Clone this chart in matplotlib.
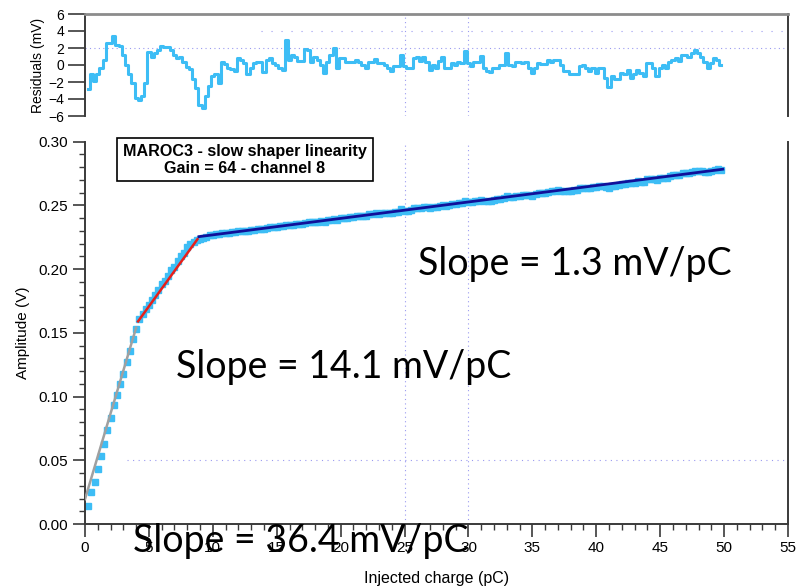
import numpy as np
import matplotlib
matplotlib.use("Agg")
import matplotlib.pyplot as plt
from matplotlib.patches import Rectangle
from matplotlib.ticker import MultipleLocator, FormatStrFormatter

# ---------------- data ----------------
step_pc = 0.25  # charge step between measurements (pC)

amplitude_V = [
    0.014, 0.025, 0.033, 0.043, 0.053, 0.063, 0.074, 0.083, 0.093, 0.101, 0.110, 0.118,
    0.127, 0.136, 0.145, 0.153,
    0.161, 0.165, 0.169, 0.172, 0.176, 0.180, 0.184, 0.188, 0.191, 0.195,
    0.199, 0.202, 0.206, 0.210, 0.213, 0.217, 0.220, 0.2215, 0.2225,
    0.2235, 0.2245, 0.2255,
    0.2264,
    0.2268, 0.2272, 0.2276, 0.2280,
    0.2283, 0.2285, 0.2288, 0.2290,
    0.2296, 0.2298, 0.2301, 0.2301,
    0.2307, 0.2311, 0.2315, 0.2318,
    0.2318, 0.2325, 0.2329, 0.2331,
    0.2334, 0.2336, 0.2338, 0.2350,
    0.2344, 0.2350, 0.2352, 0.2354,
    0.2357, 0.2364, 0.2367, 0.2366,
    0.2373, 0.2373, 0.2374, 0.2372,
    0.2382, 0.2389, 0.2394, 0.2389,
    0.2401, 0.2403, 0.2405, 0.2408,
    0.2411, 0.2417, 0.2418, 0.2418,
    0.2419, 0.2429, 0.2432, 0.2438,
    0.2436, 0.2439, 0.2441, 0.2440,
    0.2440, 0.2449, 0.2452, 0.2468,
    0.2459, 0.2460, 0.2463, 0.2477,
    0.2482, 0.2480, 0.2487, 0.2485,
    0.2479, 0.2488, 0.2488, 0.2499,
    0.2507, 0.2497, 0.2500, 0.2509,
    0.2511, 0.2518, 0.2519, 0.2537,
    0.2525, 0.2524, 0.2533, 0.2536,
    0.2546, 0.2535, 0.2534, 0.2536,
    0.2544, 0.2547, 0.2553, 0.2557,
    0.2574, 0.2563, 0.2565, 0.2574,
    0.2577, 0.2579, 0.2584, 0.2580,
    0.2577, 0.2587, 0.2595, 0.2597,
    0.2600, 0.2609, 0.2610, 0.2615,
    0.2618, 0.2615, 0.2611, 0.2614,
    0.2614, 0.2618, 0.2620, 0.2633,
    0.2638, 0.2638, 0.2637, 0.2645,
    0.2642, 0.2651, 0.2655, 0.2646,
    0.2639, 0.2655, 0.2655, 0.2658,
    0.2668, 0.2669, 0.2678, 0.2672,
    0.2679, 0.2688, 0.2687, 0.2687,
    0.2705, 0.2709, 0.2707, 0.2700,
    0.2712, 0.2719, 0.2719, 0.2729,
    0.2735, 0.2740, 0.2740, 0.2751,
    0.2754, 0.2755, 0.2763, 0.2770,
    0.2769, 0.2767, 0.2766, 0.2762,
    0.2771, 0.2780, 0.2782, 0.2779,
]

residual_mV = [
    -2.8, -1.0, -1.9, -1.1, -0.3, 0.6, 2.6, 2.6, 3.4, 2.4, 2.2, 1.2,
    0.0, -1.1, -2.1, -3.9, -4.1, -3.7, -2.1, 1.5, 1.0, 1.4, 1.8, 2.2,
    2.1, 2.1, 1.8, 1.2, 0.8, 0.9, 0.4, -0.2, -0.5, -1.7, -2.7, -4.7,
    -5.1, -3.7, -2.5, -1.3, -1.1, -2.1, 0.35, 0.1, -0.3, -0.5, -0.7, 0.8,
    0.6, 0.2, -1.1, -0.35, 0.2, 0.4, 0.4, -0.8, 0.6, 0.8, 0.2, 0.0,
    -0.35, -0.55, 2.9, 0.6, 1.2, 1.0, 0.5, 0.5, 1.9, 1.8, 0.4, 1.0,
    0.6, 0.0, -0.95, 0.4, 1.2, 2.0, -0.35, 0.8, 0.8, 0.4, 0.3, 0.3,
    0.6, 0.35, 0.0, -0.3, 0.4, 0.4, 0.75, 0.2, 0.2, 0.0, -0.4, -0.75,
    -0.15, -0.15, 1.2, -0.15, -0.3, -0.3, 0.8, 1.0, 0.5, 0.9, 0.4, -0.55,
    0.0, -0.35, 0.5, 1.0, -0.35, -0.35, 0.2, 0.0, 0.4, 0.2, 1.7, 0.2,
    -0.15, 0.4, 0.4, 1.1, -0.3, -0.7, -0.8, -0.3, -0.3, 0.0, 0.0, 1.4,
    0.0, -0.15, 0.4, 0.4, 0.2, 0.4, -0.35, -0.95, -0.3, 0.2, 0.1, 0.1,
    0.6, 0.35, 0.6, 0.6, 0.0, -0.75, -0.7, -1.05, -1.05, -1.1, -0.15, 0.0,
    -0.35, -0.75, -0.3, -0.95, -0.4, -0.3, -1.5, -2.6, -1.3, -1.6, -1.6, -0.95,
    -1.1, -0.55, -1.5, -1.1, -0.55, -0.95, -1.3, 0.2, 0.2, -0.35, -1.3, -0.35,
    0.0, -0.35, 0.35, 0.6, 0.8, 0.5, 1.2, 1.2, 1.0, 1.4, 1.8, 1.4,
    0.9, 0.4, -0.35, 0.2, 0.8, 0.6, 0.0,
]

# fitted segments: (x_start, y_start, x_end, y_end)
fit_low = (0.0, 0.0195, 4.0, 0.154)      # gray
fit_mid = (4.15, 0.159, 8.8, 0.2235)     # red
fit_high = (8.92, 0.2255, 49.9, 0.2784)  # blue

slope_labels = ["Slope = 1.3 mV/pC", "Slope = 14.1 mV/pC", "Slope = 36.4 mV/pC"]
box_text = "MAROC3 - slow shaper linearity\nGain = 64 - channel 8"

x_ticks = [0, 5, 10, 15, 20, 25, 30, 35, 40, 45, 50, 55]
amp_ticks = [0.00, 0.05, 0.10, 0.15, 0.20, 0.25, 0.30]
res_ticks = [-6, -4, -2, 0, 2, 4, 6]

n_amp = len(amplitude_V)
charge_amp = step_pc * (np.arange(n_amp) + 1)
charge_res = step_pc * (np.arange(len(residual_mV)) + 1)

# ---------------- style ----------------
DATA_C = "#3dbdf5"
SPINE_C = "#3a3a3a"
GRID_C = "#9a9af0"
plt.rcParams["font.family"] = ["Liberation Sans", "DejaVu Sans"]

W, H = 797, 586
fig = plt.figure(figsize=(W / 100, H / 100), dpi=100)

def frac_x(px):
    return px / W

def frac_y(py):
    return 1 - py / H

ax = fig.add_axes([frac_x(85), frac_y(524), frac_x(788) - frac_x(85), frac_y(141.7) - frac_y(524)])
axr = fig.add_axes([frac_x(85), frac_y(116), frac_x(788) - frac_x(85), frac_y(14) - frac_y(116)])

# ---- main panel ----
ax.set_xlim(0, 55)
ax.set_ylim(0, 0.30)
for gx in [25, 30]:
    ax.axvline(gx, color=GRID_C, lw=0.8, ls=(0, (1, 3)), zorder=0)
ax.axhline(0.05, color=GRID_C, lw=0.8, ls=(0, (1, 4)), zorder=0, xmin=0.06, xmax=1.0)

ax.plot(charge_amp, amplitude_V, ls="none", marker="s", ms=4.8, color=DATA_C, mec=DATA_C, zorder=2)
ax.plot([fit_low[0], fit_low[2]], [fit_low[1], fit_low[3]], color="#a0a0a0", lw=1.8, zorder=3)
ax.plot([fit_mid[0], fit_mid[2]], [fit_mid[1], fit_mid[3]], color="#e8201a", lw=1.8, zorder=3)
ax.plot([fit_high[0], fit_high[2]], [fit_high[1], fit_high[3]], color="#10109a", lw=2.0, zorder=3)

ax.set_xticks(x_ticks)
ax.set_yticks(amp_ticks)
ax.yaxis.set_major_formatter(FormatStrFormatter("%.2f"))
ax.xaxis.set_minor_locator(MultipleLocator(1))
ax.yaxis.set_minor_locator(MultipleLocator(0.01))
ax.tick_params(axis="both", which="major", direction="out", length=9, width=1.2,
               color=SPINE_C, labelsize=11, pad=3)
ax.tick_params(axis="both", which="minor", direction="out", length=4.5, width=1.0, color=SPINE_C)
ax.tick_params(axis="x", which="major", pad=3)
ax.spines["top"].set_visible(False)
for s in ["left", "bottom", "right"]:
    ax.spines[s].set_color(SPINE_C)
    ax.spines[s].set_linewidth(1.4)
ax.set_xlabel("Injected charge (pC)", fontsize=11.5, labelpad=12)
ax.set_ylabel("Amplitude (V)", fontsize=11, labelpad=6)

# annotation box
fig.patches.append(Rectangle((frac_x(117), frac_y(181)), frac_x(373) - frac_x(117),
                             frac_y(138) - frac_y(181), transform=fig.transFigure,
                             fc="white", ec="black", lw=1.2, zorder=5))
fig.text(frac_x(245), frac_y(160), box_text, ha="center", va="center",
         fontsize=11.6, fontweight="bold", linespacing=1.15, zorder=6)

slope_font = ["Lato", "DejaVu Sans"]
fig.text(frac_x(418), frac_y(275), slope_labels[0], ha="left", va="baseline",
         fontsize=27, family=slope_font, color="black", zorder=7)
fig.text(frac_x(176), frac_y(378), slope_labels[1], ha="left", va="baseline",
         fontsize=27, family=slope_font, color="black", zorder=7)
fig.text(frac_x(133), frac_y(552), slope_labels[2], ha="left", va="baseline",
         fontsize=27, family=slope_font, color="black", zorder=7)

# ---- residual panel ----
axr.set_xlim(0, 55)
axr.set_ylim(-6, 6)
for gx in [25, 30]:
    axr.axvline(gx, color=GRID_C, lw=0.8, ls=(0, (1, 3)), zorder=0)
axr.axhline(2, color=GRID_C, lw=0.8, ls=(0, (1, 3)), zorder=0)
axr.axhline(4, color=GRID_C, lw=0.8, ls=(0, (1, 8)), zorder=0, xmin=0.25)
axr.step(charge_res, residual_mV, where="mid", color=DATA_C, lw=2.2, zorder=2)
axr.set_yticks(res_ticks)
axr.set_xticks([])
axr.tick_params(axis="y", which="major", direction="out", length=12, width=1.2,
                color=SPINE_C, labelsize=10, pad=3)
axr.spines["bottom"].set_visible(False)
axr.spines["top"].set_color("#8c8c8c")
axr.spines["top"].set_linewidth(2.0)
axr.spines["left"].set_color(SPINE_C)
axr.spines["left"].set_linewidth(1.4)
axr.spines["right"].set_color(SPINE_C)
axr.spines["right"].set_linewidth(1.4)
axr.set_ylabel("Residuals (mV)", fontsize=10, labelpad=2)

fig.savefig("out.png", dpi=100)
